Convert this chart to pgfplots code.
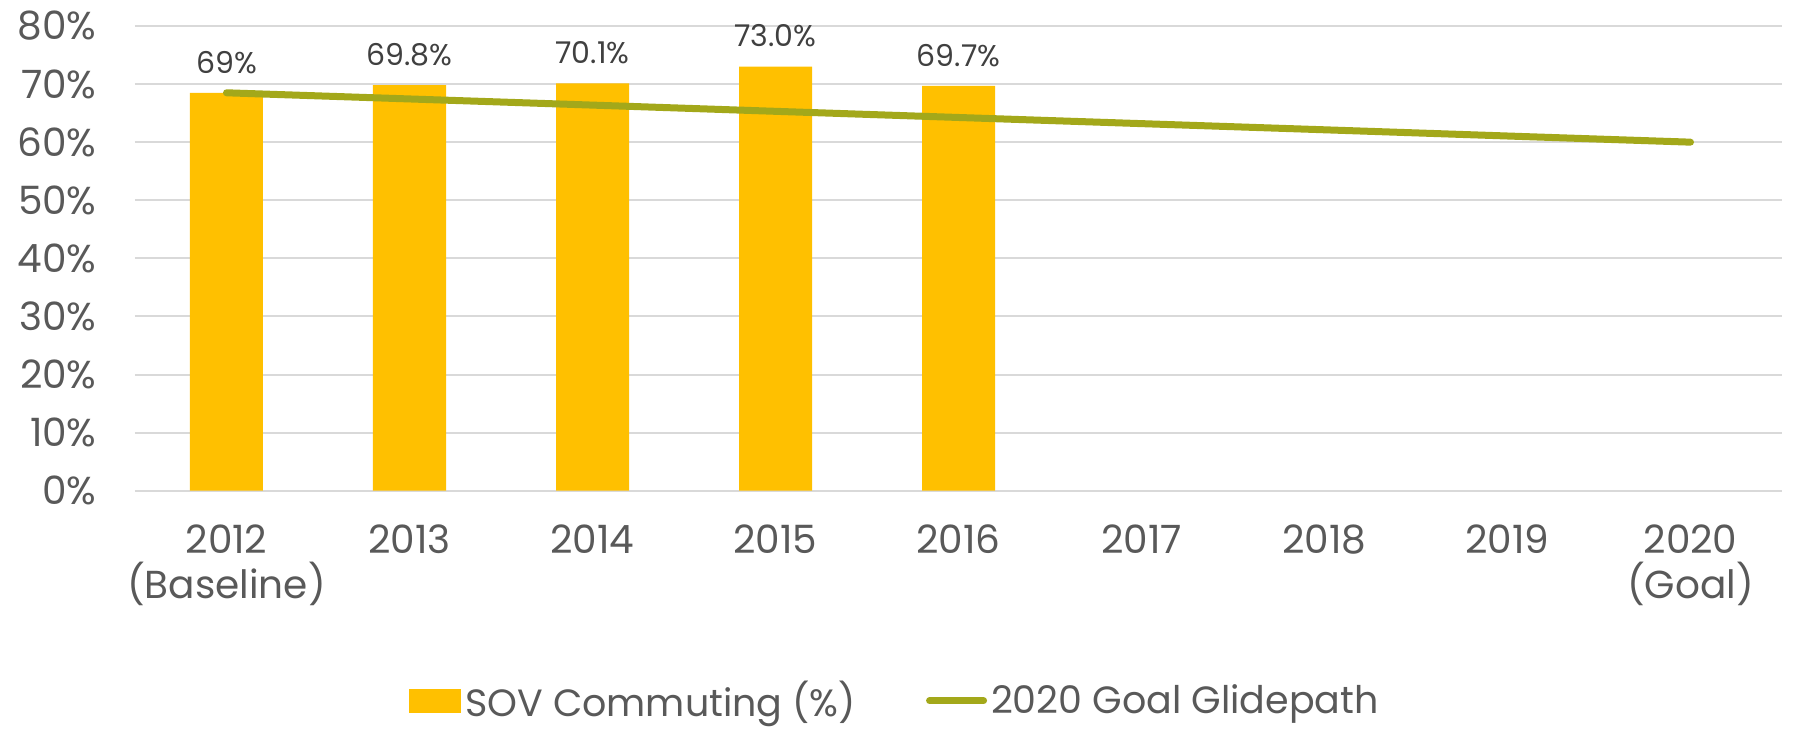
\documentclass[border=0pt]{standalone}
\usepackage{pgfplots}
\pgfplotsset{compat=1.18}
\usepackage{fontspec}
\setmainfont{Poppins}
\definecolor{barcol}{HTML}{FFC000}
\definecolor{linecol}{RGB}{163,168,26}
\definecolor{gridcol}{HTML}{D9D9D9}
\definecolor{ticktext}{HTML}{595959}
\definecolor{labtext}{HTML}{404040}
\begin{document}
\begin{tikzpicture}
\begin{axis}[
  scale only axis,
  width=823.5bp, height=232.35bp,
  xmin=-0.5, xmax=8.5,
  ymin=0, ymax=80,
  ytick={0,10,...,80},
  yticklabel={\pgfmathprintnumber{\tick}\%},
  /pgf/number format/assume math mode=true,
  xtick={0,...,8},
  xticklabels={{2012\\(Baseline)},2013,2014,2015,2016,2017,2018,2019,{2020\\(Goal)}},
  ymajorgrids,
  grid style={draw=gridcol, line width=1bp},
  axis line style={draw=none},
  major tick length=0pt,
  tick style={draw=none},
  yticklabel style={font=\fontsize{19.5bp}{23bp}\selectfont, text=ticktext, anchor=east, inner sep=0pt, xshift=-19bp},
  xticklabel style={font=\fontsize{19.5bp}{22.5bp}\selectfont, text=ticktext, anchor=north, align=center, inner sep=0pt, yshift=-17bp},
  legend columns=2,
  legend style={at={(0.462,-0.452)}, anchor=center, draw=none, fill=none,
    font=\fontsize{19bp}{23bp}\selectfont, text=ticktext,
    /tikz/every even column/.append style={column sep=33bp},
    nodes={inner sep=2bp}},
  legend cell align=left,
]
\addplot[ybar, bar width=36.5bp, fill=barcol, draw=none,
  nodes near coords, point meta=explicit symbolic,
  every node near coord/.append style={font=\fontsize{15bp}{18bp}\selectfont, text=labtext, anchor=south, inner sep=0pt, yshift=9.5bp},
  legend image code/.code={\fill[barcol] (0bp,-6bp) rectangle (26bp,6bp);}]
  coordinates {(0,68.5) [69\%] (1,69.8) [69.8\%] (2,70.1) [70.1\%] (3,73.0) [73.0\%] (4,69.7) [69.7\%]};
\addlegendentry{SOV Commuting (\%)}
\addplot[draw=linecol, line width=3.5bp, line cap=round, mark=none,
  legend image code/.code={\draw[linecol, line width=3.5bp, line cap=round] (0bp,0bp) -- (27bp,0bp);}]
  coordinates {(0,68.5) (1,67.44) (2,66.38) (3,65.31) (4,64.25) (5,63.19) (6,62.13) (7,61.06) (8,60.0)};
\addlegendentry{2020 Goal Glidepath}
\coordinate (bbsw) at (rel axis cs:0,0);
\coordinate (bbne) at (rel axis cs:1,1);
\end{axis}
\pgfresetboundingbox
\path[use as bounding box] ([xshift=-67.5bp,yshift=-120.15bp]bbsw) rectangle ([xshift=5.5bp,yshift=13bp]bbne);
\end{tikzpicture}
\end{document}
